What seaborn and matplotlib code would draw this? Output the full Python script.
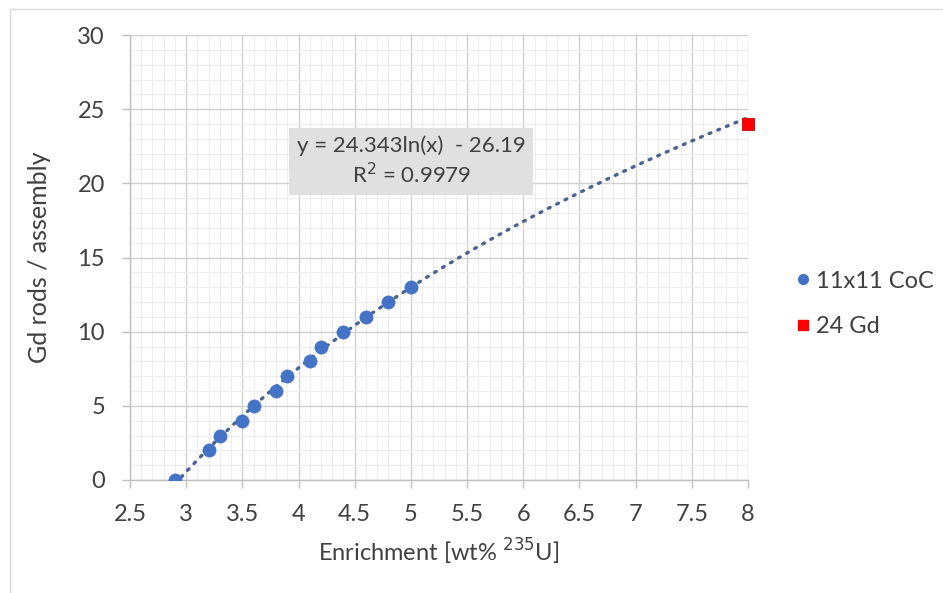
import numpy as np
import pandas as pd
import matplotlib
matplotlib.use("Agg")
import matplotlib.pyplot as plt
from matplotlib.lines import Line2D
from matplotlib.ticker import MultipleLocator
import seaborn as sns

# Gd rods per assembly versus enrichment, 11x11 CoC design points
enrichment = [2.9, 3.2, 3.3, 3.5, 3.6, 3.8, 3.9, 4.1, 4.2, 4.4, 4.6, 4.8, 5.0]
gd_rods = [0, 2, 3, 4, 5, 6, 7, 8, 9, 10, 11, 12, 13]

# Extra design point
gd24_enrichment = [8.0]
gd24_rods = [24]

# Logarithmic trendline y = a*ln(x) + b
trend_a = 24.343
trend_b = -26.19
trend_r2 = 0.9979
trend_x_start = 2.9
trend_x_end = 8.0

series_names = ["11x11 CoC", "24 Gd"]
x_ticks = [2.5, 3, 3.5, 4, 4.5, 5, 5.5, 6, 6.5, 7, 7.5, 8]
y_ticks = [0, 5, 10, 15, 20, 25, 30]

sns.set_theme(style="white")
plt.rcParams["font.family"] = ["Lato", "DejaVu Sans"]

W, H = 943, 593
fig = plt.figure(figsize=(W / 100, H / 100), dpi=100)
ax = fig.add_axes([130 / W, 1 - 480 / H, (748 - 130) / W, (480 - 35) / H])

# chart area border
fig.add_artist(Line2D([10 / W, 10 / W], [0, 1 - 9 / H], transform=fig.transFigure,
                      color="#d9d9d9", lw=1))
fig.add_artist(Line2D([10 / W, 1], [1 - 9 / H, 1 - 9 / H], transform=fig.transFigure,
                      color="#d9d9d9", lw=1))

# trendline
tx = np.linspace(trend_x_start, trend_x_end, 200)
trend = pd.DataFrame({"x": tx, "y": trend_a * np.log(tx) + trend_b})
sns.lineplot(data=trend, x="x", y="y", ax=ax, color="#4a6390", lw=2.4,
             linestyle=(0, (0.6, 2.2)), dash_capstyle="round", zorder=3,
             legend=False)

blue = "#4472c4"
red = "#ff0000"
pts = pd.DataFrame({"x": enrichment, "y": gd_rods})
sns.scatterplot(data=pts, x="x", y="y", ax=ax, color=blue, s=90, marker="o",
                edgecolor=blue, linewidth=0.5, zorder=4, legend=False)
pts2 = pd.DataFrame({"x": gd24_enrichment, "y": gd24_rods})
sns.scatterplot(data=pts2, x="x", y="y", ax=ax, color=red, s=80, marker="s",
                edgecolor="#d00000", linewidth=0.6, zorder=4, legend=False,
                clip_on=False)

ax.set_xlim(2.5, 8)
ax.set_ylim(0, 30)
ax.set_xticks(x_ticks)
ax.set_xticklabels([f"{t:g}" for t in x_ticks])
ax.set_yticks(y_ticks)
ax.xaxis.set_minor_locator(MultipleLocator(0.1))
ax.yaxis.set_minor_locator(MultipleLocator(1))
ax.grid(which="major", color="#d0d0d0", lw=1.0, zorder=0)
ax.grid(which="minor", color="#ededed", lw=0.8, zorder=0)
ax.set_axisbelow(True)

for s in ["top", "right"]:
    ax.spines[s].set_visible(False)
for s in ["left", "bottom"]:
    ax.spines[s].set_color("#bfbfbf")
    ax.spines[s].set_linewidth(1.0)

ax.tick_params(axis="both", which="major", direction="out", length=6, width=1,
               color="#bfbfbf", labelsize=17, labelcolor="#404040")
ax.tick_params(axis="x", which="major", pad=11, bottom=True)
ax.tick_params(axis="y", which="major", pad=12, left=True)
ax.tick_params(which="minor", length=0)

ax.set_xlabel("Enrichment [wt% $^{235}$U]", fontsize=17, color="#404040", labelpad=9)
ax.set_ylabel("Gd rods / assembly", fontsize=18, color="#404040", labelpad=19)

ax.text(0.455, 0.716,
        f"y = {trend_a:.3f}ln(x)  - {abs(trend_b):.2f}\nR$^2$ = {trend_r2:.4f}",
        transform=ax.transAxes, ha="center", va="center", fontsize=16,
        color="#404040", linespacing=1.3, zorder=5,
        bbox=dict(boxstyle="square,pad=0.35", facecolor="#e0e0e0", edgecolor="none"))

handles = [
    Line2D([], [], marker="o", color=blue, linestyle="none", markersize=7),
    Line2D([], [], marker="s", color=red, linestyle="none", markersize=7),
]
fig.legend(handles, series_names, loc="center left", bbox_to_anchor=(772 / W, 1 - 304 / H),
           frameon=False, fontsize=17, labelcolor="#404040", handlelength=0.8,
           handletextpad=0.15, labelspacing=1.05)

fig.savefig("out.png", dpi=100)
